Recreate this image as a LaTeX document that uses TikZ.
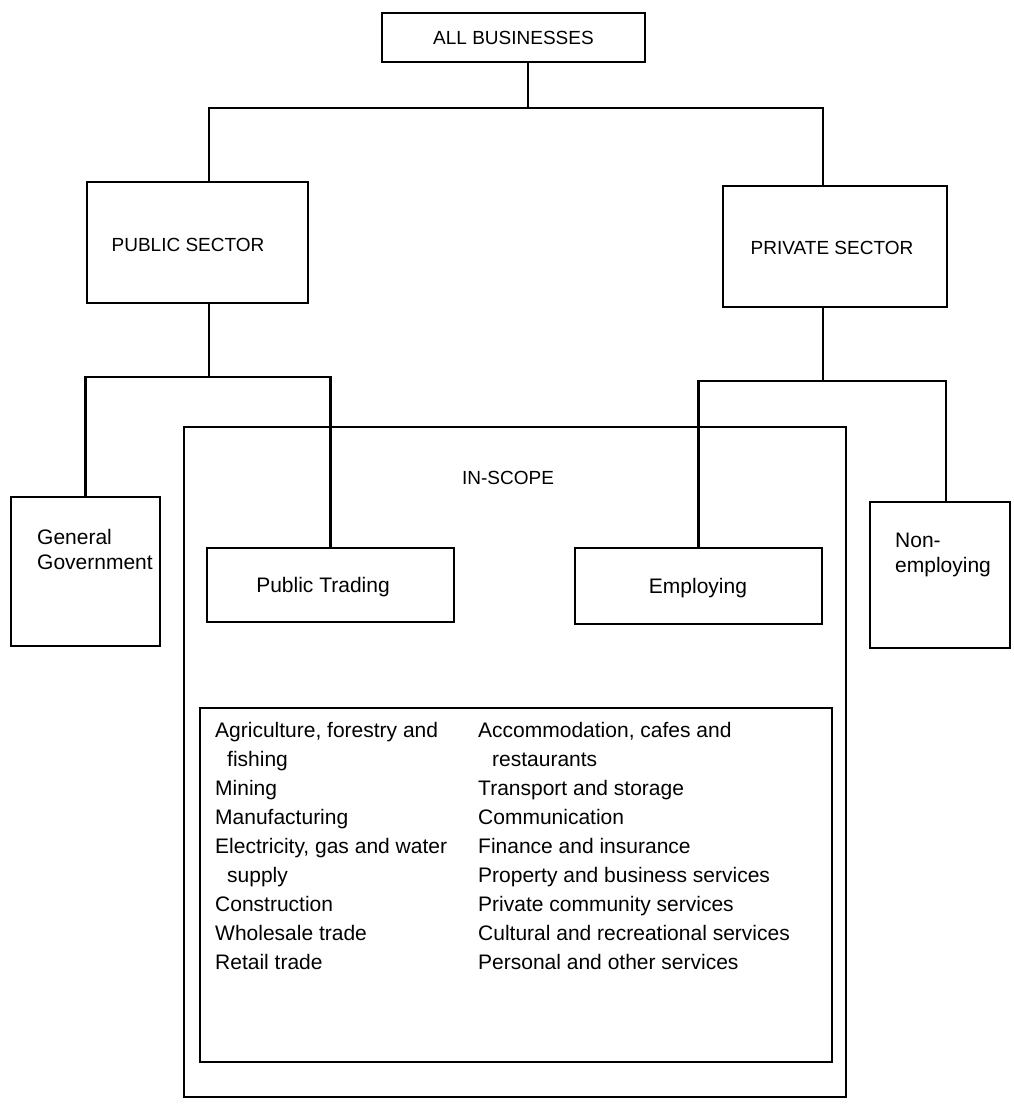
\documentclass[tikz,border=0pt]{standalone}
\usepackage{fontspec}
\setmainfont{Liberation Sans}
\begin{document}
\begin{tikzpicture}[x=1pt,y=-1pt,
  box/.style={draw, line width=2.8pt, rectangle, inner sep=0pt},
  thinbox/.style={draw, line width=1.6pt, rectangle, inner sep=0pt},
  conn/.style={line width=2.8pt},
  lbl/.style={inner sep=0pt, font=\fontsize{21}{25}\selectfont},
  caps/.style={inner sep=0pt, font=\fontsize{19}{22}\selectfont},
  item/.style={anchor=base west, inner sep=0pt, font=\fontsize{21}{25}\selectfont}]
\useasboundingbox (0,0) rectangle (1013,1106);
% boxes
\node[box, minimum width=263pt, minimum height=49pt] (ab) at (513.5,37.5) {};
\node[caps] (abt) at (513.5,37.5) {ALL BUSINESSES};
\node[box, minimum width=221pt, minimum height=121pt] (pub) at (197.5,242.5) {};
\node[caps] (pubt) at (188,245) {PUBLIC SECTOR};
\node[box, minimum width=224pt, minimum height=121pt] (priv) at (835,246.5) {};
\node[caps] (privt) at (832,248) {PRIVATE SECTOR};
\node[box, minimum width=662pt, minimum height=670pt] (scope) at (515,762) {};
\node[caps] (scopet) at (508,478) {IN-SCOPE};
\node[box, minimum width=149pt, minimum height=149pt] (gg) at (85.5,571.5) {};
\node[item] (ggt1) at (37,544) {General};
\node[item] (ggt2) at (37,569) {Government};
\node[box, fill=white, minimum width=247pt, minimum height=74pt] (pt) at (330.5,585) {};
\node[lbl] (ptt) at (323,587) {Public Trading};
\node[box, fill=white, minimum width=247pt, minimum height=76pt] (emp) at (698.5,586) {};
\node[lbl] (empt) at (698,588) {Employing};
\node[box, minimum width=140pt, minimum height=146pt] (ne) at (940,575) {};
\node[item] (net1) at (895,547) {Non-};
\node[item] (net2) at (895,572) {employing};
\node[thinbox, minimum width=632pt, minimum height=354pt] (inner) at (516,885) {};
% list
\foreach \t [count=\i from 0] in {Agriculture{,} forestry and, \hspace{12pt}fishing, Mining, Manufacturing, Electricity{,} gas and water, \hspace{12pt}supply, Construction, Wholesale trade, Retail trade}
  \node[item] (l\i) at (215,737.5+29*\i) {\t};
\foreach \t [count=\i from 0] in {Accommodation{,} cafes and, \hspace{14pt}restaurants, Transport and storage, Communication, Finance and insurance, Property and business services, Private community services, Cultural and recreational services, Personal and other services}
  \node[item] (r\i) at (478,737.5+29*\i) {\t};
% connectors
\coordinate (j0) at (528,108);
\coordinate (xpub) at (209,0);
\coordinate (xpriv) at (823,0);
\coordinate (pb) at (209,377);
\coordinate (vb) at (823,381);
\coordinate (xne) at (946,0);
\draw[conn] (ab.south -| j0) -- (j0);
\draw[conn] (pub.north -| xpub) |- (j0) -| (priv.north -| xpriv);
\draw[conn] (pub.south -| xpub) -- (pb);
\draw[conn] (gg.north) |- (pb) -| (pt.north);
\draw[conn] (priv.south -| xpriv) -- (vb);
\draw[conn] (emp.north) |- (vb) -| (ne.north -| xne);
\end{tikzpicture}
\end{document}
